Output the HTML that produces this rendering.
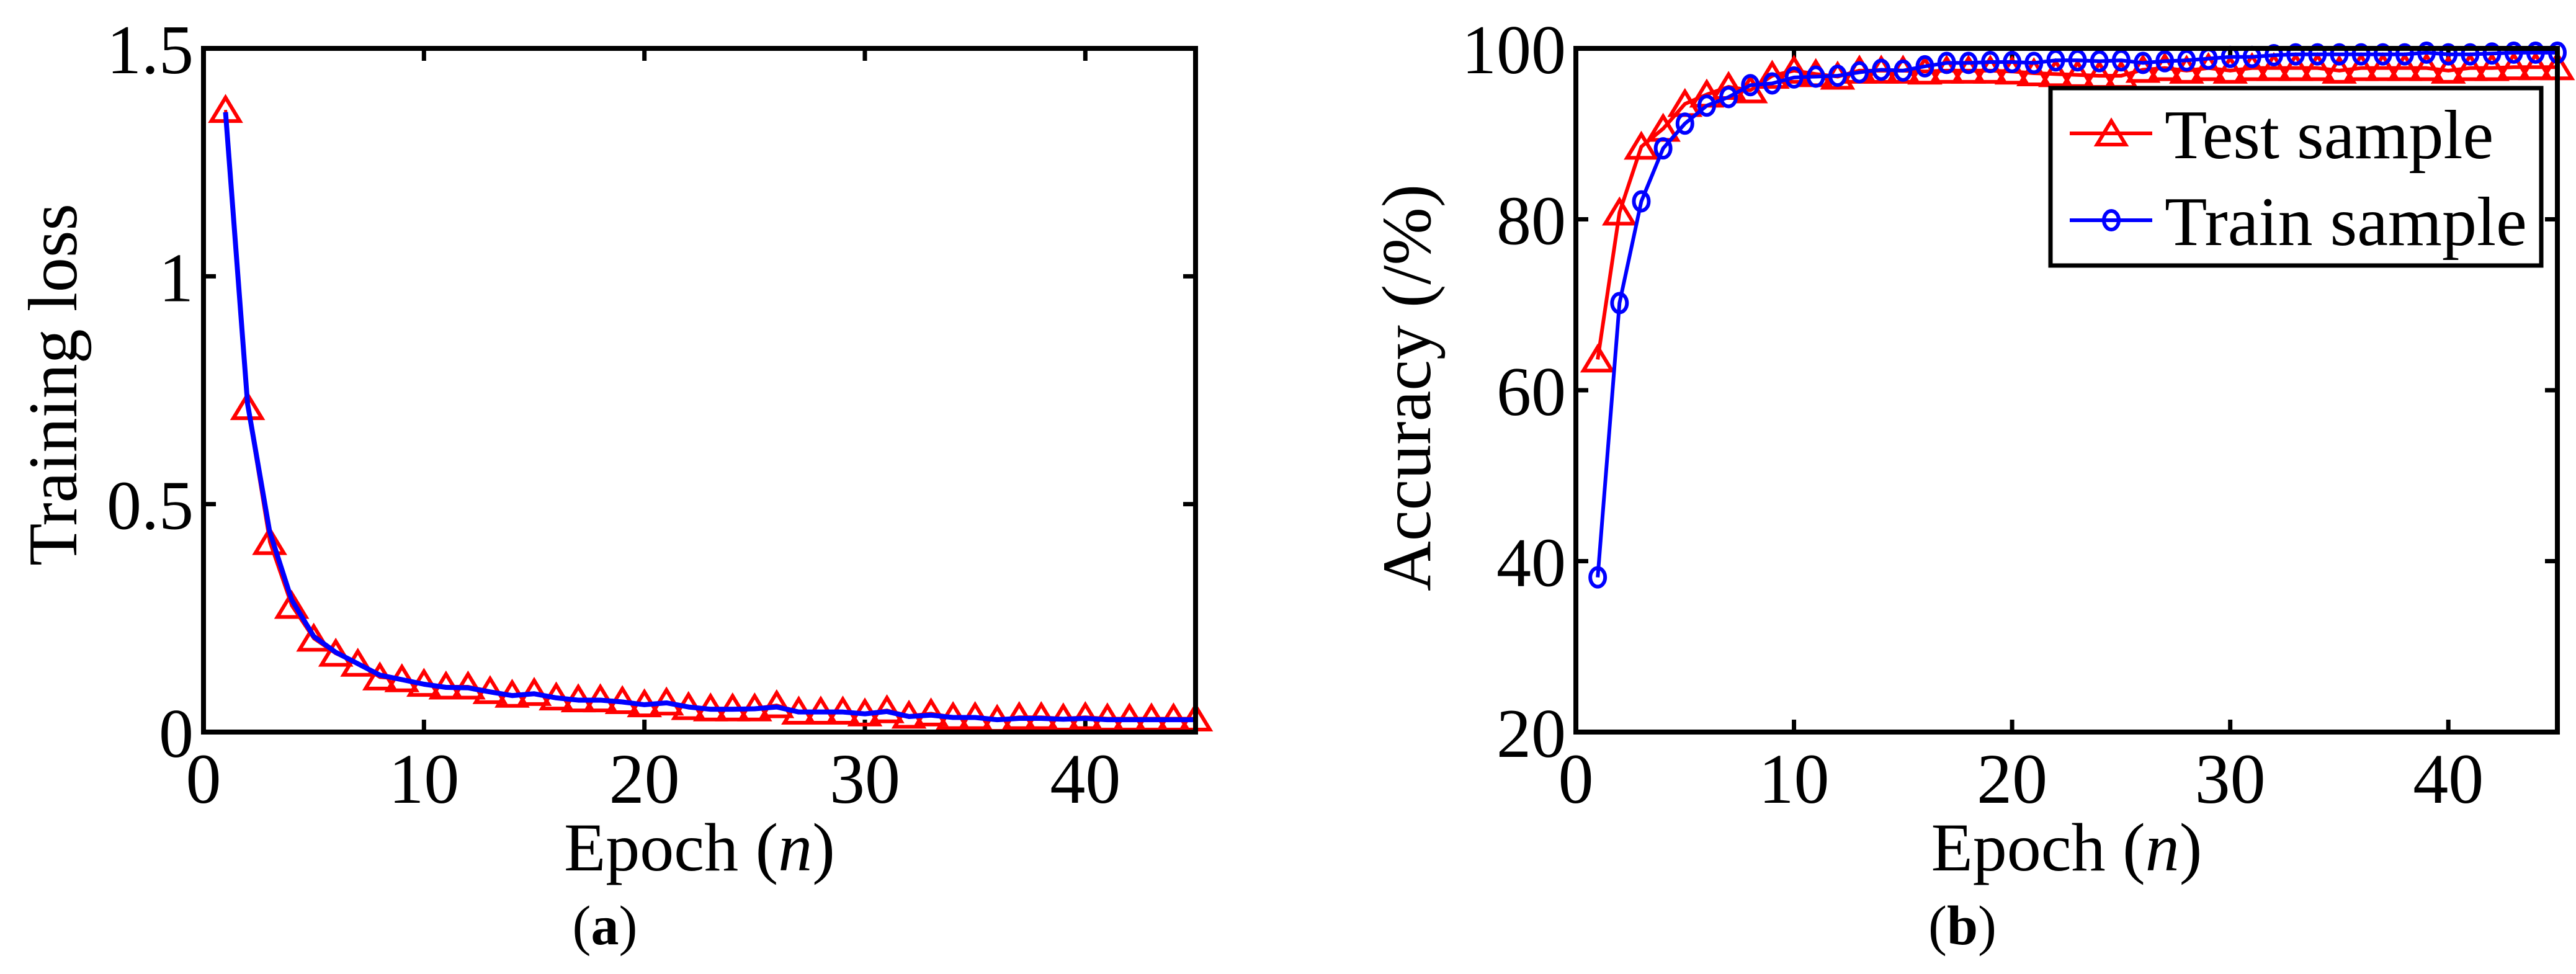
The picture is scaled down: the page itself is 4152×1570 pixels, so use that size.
<!DOCTYPE html>
<html><head><meta charset="utf-8"><style>
html,body{margin:0;padding:0;background:#fff;}
svg{display:block;font-family:"Liberation Serif",serif;}
</style></head><body>
<svg id="fig" width="4152" height="1570" viewBox="0 0 4152 1570" xmlns="http://www.w3.org/2000/svg"></svg>
<script>
const epochs = Array.from({length:45},(_,i)=>i+1);
const lossTest = [1.365,0.713,0.417,0.277,0.205,0.172,0.150,0.120,0.116,0.106,0.100,0.100,0.090,0.082,0.086,0.076,0.072,0.072,0.068,0.061,0.065,0.055,0.052,0.052,0.052,0.059,0.045,0.045,0.045,0.041,0.048,0.036,0.041,0.033,0.033,0.027,0.033,0.033,0.030,0.033,0.030,0.030,0.030,0.030,0.030];
const lossTrain = [1.36,0.72,0.44,0.29,0.21,0.175,0.150,0.125,0.115,0.105,0.098,0.097,0.088,0.080,0.084,0.075,0.070,0.070,0.066,0.060,0.064,0.055,0.050,0.050,0.051,0.055,0.044,0.044,0.044,0.040,0.045,0.034,0.037,0.032,0.032,0.027,0.030,0.030,0.028,0.030,0.027,0.027,0.027,0.027,0.027];
const accTest = [63.6,80.8,88.5,90.6,93.5,94.6,95.5,95.1,96.8,97.4,97.0,96.7,97.4,97.4,97.4,97.3,97.4,97.4,97.4,97.3,97.1,97.0,96.9,96.8,96.8,97.5,97.7,97.4,97.7,97.4,97.7,97.7,97.7,97.7,97.4,97.7,97.7,97.7,97.7,97.4,97.7,97.7,97.8,97.8,97.8];
const accTrain = [38.1,70.2,82.1,88.3,91.2,93.3,94.3,95.7,95.9,96.6,96.7,96.8,97.2,97.5,97.4,97.9,98.3,98.3,98.4,98.4,98.3,98.6,98.6,98.5,98.6,98.3,98.5,98.6,98.8,99.0,99.0,99.2,99.3,99.3,99.3,99.3,99.3,99.3,99.5,99.3,99.3,99.4,99.5,99.5,99.5];
const xTicks = [0,10,20,30,40];
const lossTicks = [0,0.5,1,1.5];
const lossTickLabels = ["0","0.5","1","1.5"];
const accTicks = [20,40,60,80,100];
const accTickLabels = ["20","40","60","80","100"];

const NS="http://www.w3.org/2000/svg";
const svg=document.getElementById('fig');
function mk(tag,attrs,parent){const e=document.createElementNS(NS,tag);for(const k in attrs)e.setAttribute(k,attrs[k]);(parent||svg).appendChild(e);return e;}

function panel(cfg){
  const g=mk('g',{});
  
  
  const X=v=>cfg.L+(v-0)/(45-0)*(cfg.R-cfg.L);
  const Y=v=>cfg.B-(v-cfg.ymin)/(cfg.ymax-cfg.ymin)*(cfg.B-cfg.T);
  xTicks.forEach(t=>{
    const x=X(t);
    const tk=mk('path',{d:`M${x},${cfg.B}V${cfg.B-20}M${x},${cfg.T}V${cfg.T+20}`,stroke:'#000','stroke-width':7},g);
    
    
    const lb=mk('text',{x:x,y:1294,'font-size':114,'text-anchor':'middle'},g);
    lb.textContent=t;
    
    
  });
  cfg.ticks.forEach((t,i)=>{
    const y=Y(t);
    const tk=mk('path',{d:`M${cfg.L},${y}H${cfg.L+20}M${cfg.R},${y}H${cfg.R-20}`,stroke:'#000','stroke-width':7},g);
    
    
    const lb=mk('text',{x:cfg.L-16,y:y+40,'font-size':112,'text-anchor':'end'},g);
    lb.textContent=cfg.tickLabels[i];
    
    
  });
  cfg.series.forEach(s=>{
    const pts=epochs.map((e,i)=>X(e)+','+Y(s.vals[i])).join(' ');
    const line=mk('polyline',{points:pts,fill:'none',stroke:s.color,'stroke-width':s.lw||6,'stroke-linejoin':'round'},g);
    
    
    if(s.marker){
      epochs.forEach((e,i)=>{
        const x=X(e),y=Y(s.vals[i]);
        let m;
        if(s.marker==='tri') m=mk('path',{d:`M${x},${y-20}L${x+23},${y+18}L${x-23},${y+18}Z`,fill:'none',stroke:s.color,'stroke-width':6},g);
        else m=mk('ellipse',{cx:x,cy:y,rx:12,ry:15,fill:'none',stroke:s.color,'stroke-width':6},g);
        
        
      });
    }
  });
  const box=mk('rect',{x:cfg.L,y:cfg.T,width:cfg.R-cfg.L,height:cfg.B-cfg.T,fill:'none',stroke:'#000','stroke-width':8},g);
  
  
  const xl=mk('text',{x:(cfg.L+cfg.R)/2,y:1403,'font-size':110,'text-anchor':'middle'},g);
  xl.innerHTML='Epoch (<tspan font-style="italic">n</tspan>)';
  
  
  const yl=mk('text',{x:0,y:0,'font-size':112,'text-anchor':'middle',transform:`translate(${cfg.ylx},${cfg.yly}) rotate(-90)`},g);
  yl.textContent=cfg.ylabel;
  
  
  const cap=mk('text',{x:cfg.capx,y:1522,'font-size':90,'text-anchor':'middle'},g);
  cap.innerHTML='(<tspan font-weight="bold">'+cfg.cap+'</tspan>)';
  
  
  return {g,X,Y};
}

panel({name:'loss-panel',L:328,R:1927,T:78,B:1180,ymin:0,ymax:1.5,ticks:lossTicks,tickLabels:lossTickLabels,
  ylabel:'Training loss',ylx:123,yly:620,capx:975,cap:'a',
  series:[{name:'test-loss',vals:lossTest,color:'#ff0000',marker:'tri',lw:5},{name:'train-loss',vals:lossTrain,color:'#0000ff',lw:8}]});

panel({name:'accuracy-panel',L:2540,R:4122,T:78,B:1180,ymin:20,ymax:100,ticks:accTicks,tickLabels:accTickLabels,
  ylabel:'Accuracy (/%)',ylx:2305,yly:625,capx:3163,cap:'b',
  series:[{name:'test-accuracy',vals:accTest,color:'#ff0000',marker:'tri'},{name:'train-accuracy',vals:accTrain,color:'#0000ff',marker:'circ'}]});

const lg=mk('g',{});


mk('rect',{x:3305,y:142,width:791,height:286,fill:'#fff',stroke:'#000','stroke-width':7},lg);
const e1=mk('g',{},lg);


mk('line',{x1:3336,y1:215,x2:3469,y2:215,stroke:'#ff0000','stroke-width':6},e1);
mk('path',{d:'M3403,195L3426,233L3380,233Z',fill:'none',stroke:'#ff0000','stroke-width':6},e1);
const t1=mk('text',{x:3489,y:255,'font-size':112},e1);t1.textContent='Test sample';
const e2=mk('g',{},lg);


mk('line',{x1:3336,y1:355,x2:3469,y2:355,stroke:'#0000ff','stroke-width':6},e2);
mk('ellipse',{cx:3403,cy:355,rx:12,ry:15,fill:'none',stroke:'#0000ff','stroke-width':6},e2);
const t2=mk('text',{x:3489,y:395,'font-size':112},e2);t2.textContent='Train sample';
</script>
</body></html>
